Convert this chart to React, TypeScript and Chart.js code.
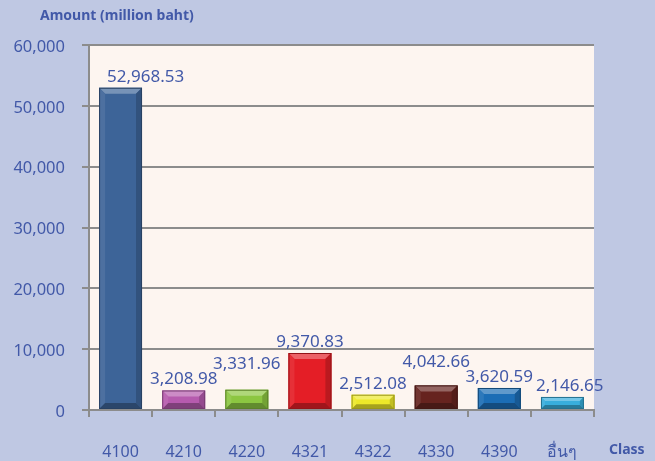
import React, { useEffect, useRef } from "react";
import { Chart, registerables } from "chart.js";

Chart.register(...registerables);

const categories = ["4100", "4210", "4220", "4321", "4322", "4330", "4390", "อื่นๆ"];
const amounts = [52968.53, 3208.98, 3331.96, 9370.83, 2512.08, 4042.66, 3620.59, 2146.65];
const barColors = ["#3D6498", "#B65BAE", "#8CC641", "#E41E26", "#EDE829", "#66231F", "#1C6DB5", "#38AEDC"];
const yTicks = [0, 10000, 20000, 30000, 40000, 50000, 60000];

const BG = "#BFC8E3";
const PLOT_BG = "#FDF5F0";
const TEXT = "#4259A8";
const FONT = "'Noto Sans', 'DejaVu Sans', sans-serif";

function shade(hex: string, amt: number) {
  const n = parseInt(hex.slice(1), 16);
  let r = (n >> 16) & 255, g = (n >> 8) & 255, b = n & 255;
  const f = (c: number) => Math.max(0, Math.min(255, Math.round(amt >= 0 ? c + (255 - c) * amt : c * (1 + amt))));
  return `rgb(${f(r)},${f(g)},${f(b)})`;
}

const fmt = (v: number) => v.toLocaleString("en-US", { minimumFractionDigits: 2, maximumFractionDigits: 2 });

export default function App() {
  const ref = useRef<HTMLCanvasElement>(null);
  useEffect(() => {
    document.body.style.margin = "0";
    const plotBg = {
      id: "plotBg",
      beforeDraw(chart: any) {
        const { ctx, chartArea: a } = chart;
        ctx.save();
        ctx.fillStyle = PLOT_BG;
        ctx.fillRect(a.left, a.top, a.right - a.left, a.bottom - a.top);
        ctx.restore();
      },
    };
    const bevel = {
      id: "bevel",
      afterDatasetsDraw(chart: any) {
        const { ctx, chartArea: area } = chart;
        const meta = chart.getDatasetMeta(0);
        ctx.save();
        meta.data.forEach((bar: any, i: number) => {
          const c = barColors[i];
          const l = bar.x - bar.width / 2, r = bar.x + bar.width / 2;
          const t = bar.y, b = bar.base;
          const h = b - t;
          const e = Math.min(6, h / 3);
          ctx.fillStyle = shade(c, 0.3);
          ctx.beginPath();
          ctx.moveTo(l, t); ctx.lineTo(r, t); ctx.lineTo(r - e, t + e); ctx.lineTo(l + e, t + e); ctx.closePath(); ctx.fill();
          ctx.fillStyle = shade(c, 0.08);
          ctx.beginPath();
          ctx.moveTo(l, t); ctx.lineTo(l + e, t + e); ctx.lineTo(l + e, b - e); ctx.lineTo(l, b); ctx.closePath(); ctx.fill();
          ctx.fillStyle = shade(c, -0.18);
          ctx.beginPath();
          ctx.moveTo(r, t); ctx.lineTo(r - e, t + e); ctx.lineTo(r - e, b - e); ctx.lineTo(r, b); ctx.closePath(); ctx.fill();
          ctx.fillStyle = shade(c, -0.3);
          ctx.beginPath();
          ctx.moveTo(l, b); ctx.lineTo(l + e, b - e); ctx.lineTo(r - e, b - e); ctx.lineTo(r, b); ctx.closePath(); ctx.fill();
          ctx.strokeStyle = shade(c, -0.35);
          ctx.lineWidth = 1;
          ctx.strokeRect(l + 0.5, t + 0.5, r - l - 1, h - 1);
        });

        // data labels with simple collision avoidance
        ctx.font = `17px ${FONT}`;
        const n = meta.data.length;
        const txts = amounts.map(fmt);
        const ws = txts.map((s) => ctx.measureText(s).width);
        const cx: number[] = [];
        const cy: number[] = [];
        meta.data.forEach((bar: any, i: number) => {
          let x = bar.x;
          if (x - ws[i] / 2 < area.left + 18) x = area.left + 18 + ws[i] / 2;
          cx.push(x);
          cy.push(bar.y - 11);
        });
        for (let i = 1; i < n; i++) {
          const hOverlap = cx[i] - ws[i] / 2 < cx[i - 1] + ws[i - 1] / 2 + 3;
          if (hOverlap && Math.abs(cy[i] - cy[i - 1]) < 15) {
            if (i === n - 1 && amounts[i] < amounts[i - 1]) {
              cx[i] = cx[i - 1] + ws[i - 1] / 2 + 3 + ws[i] / 2;
            } else if (amounts[i] >= amounts[i - 1]) {
              cy[i] = cy[i - 1] - 15;
            } else {
              cy[i - 1] = cy[i] - 15;
            }
          }
        }
        ctx.fillStyle = TEXT;
        ctx.textAlign = "center";
        ctx.textBaseline = "middle";
        for (let i = 0; i < n; i++) ctx.fillText(txts[i], cx[i], cy[i]);
        ctx.restore();
      },
    };
    const texts = {
      id: "texts",
      afterDraw(chart: any) {
        const { ctx } = chart;
        ctx.save();
        ctx.fillStyle = TEXT;
        ctx.font = `bold 14px ${FONT}`;
        ctx.textAlign = "left";
        ctx.textBaseline = "middle";
        ctx.fillText("Amount (million baht)", 40, 16);
        ctx.fillText("Class", 609, 450);
        ctx.restore();
      },
    };
    const chart = new Chart(ref.current!, {
      type: "bar",
      data: {
        labels: categories,
        datasets: [
          {
            data: amounts,
            backgroundColor: barColors,
            barPercentage: 0.68,
            categoryPercentage: 1,
          },
        ],
      },
      plugins: [plotBg, bevel, texts],
      options: {
        animation: false,
        responsive: false,
        devicePixelRatio: 1,
        layout: { padding: { top: 45, right: 61, left: 0, bottom: 0 } },
        plugins: { legend: { display: false }, tooltip: { enabled: false } },
        scales: {
          x: {
            offset: true,
            grid: { offset: true, drawOnChartArea: false, color: "#8C8C8C", tickLength: 7, lineWidth: 2 },
            border: { color: "#8C8C8C", width: 2 },
            ticks: { color: TEXT, font: { family: FONT, size: 16 }, padding: 26 },
            afterFit(s: any) { s.height = 51; },
          },
          y: {
            min: 0,
            max: 60000,
            afterBuildTicks(s: any) { s.ticks = yTicks.map((v) => ({ value: v })); },
            grid: { color: "#8C8C8C", tickLength: 7, lineWidth: 2 },
            border: { color: "#8C8C8C", width: 2 },
            ticks: {
              color: TEXT,
              font: { family: FONT, size: 16.5 },
              padding: 17,
              labelOffset: 2,
              callback: (v: any) => Number(v).toLocaleString("en-US"),
            },
            afterFit(s: any) { s.width = 89; },
          },
        },
      },
    });
    return () => chart.destroy();
  }, []);
  return (
    <div style={{ width: 655, height: 461, background: BG }}>
      <canvas ref={ref} width={655} height={461} style={{ display: "block" }} />
    </div>
  );
}
